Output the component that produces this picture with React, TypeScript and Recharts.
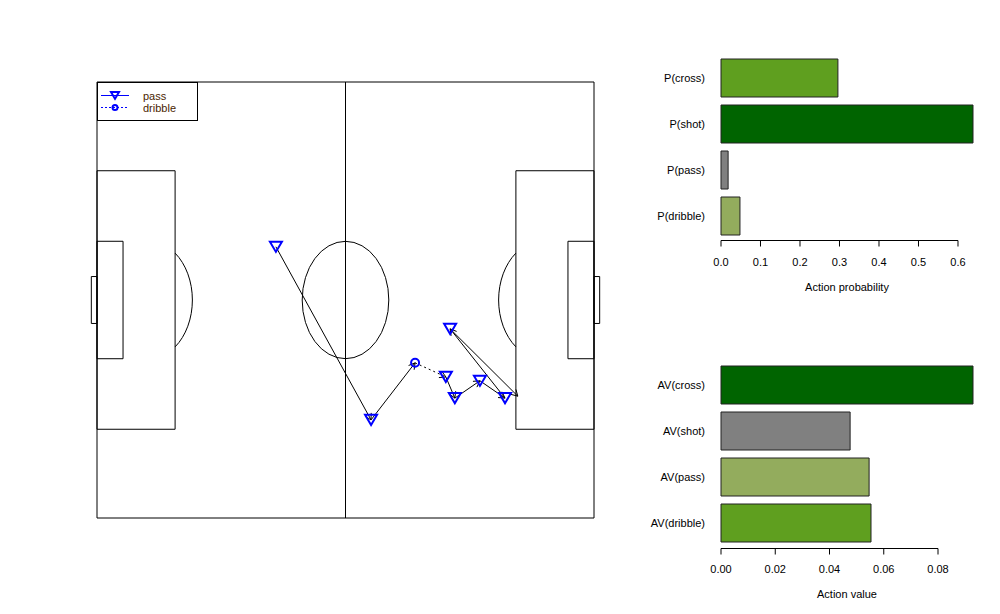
import {
  Bar,
  BarChart,
  Cell,
  ReferenceArea,
  ReferenceLine,
  Scatter,
  ScatterChart,
  XAxis,
  YAxis,
} from "recharts";

// action sequence on the pitch (metres, 105 x 68, y up)
const actionType = ["pass", "pass", "dribble", "pass", "pass", "pass", "pass", "pass"];
const startX = [37.8, 57.9, 67.2, 73.7, 75.6, 80.9, 86.2, 74.6];
const startY = [42.3, 15.3, 24.2, 22.0, 18.7, 21.4, 18.7, 29.5];
const endX = [57.9, 67.2, 73.7, 75.6, 80.9, 86.2, 74.6, 88.9];
const endY = [15.3, 24.2, 22.0, 18.7, 21.4, 18.7, 29.5, 19.0];

// bar panels
const probLabels = ["P(cross)", "P(shot)", "P(pass)", "P(dribble)"];
const probValues = [0.296, 0.638, 0.018, 0.048];
const probColors = ["#5F9F1F", "#006400", "#808080", "#93AC5D"];
const probTicks = [0, 0.1, 0.2, 0.3, 0.4, 0.5, 0.6];

const valueLabels = ["AV(cross)", "AV(shot)", "AV(pass)", "AV(dribble)"];
const valueValues = [0.0929, 0.0476, 0.0546, 0.0553];
const valueColors = ["#006400", "#808080", "#93AC5D", "#5F9F1F"];
const valueTicks = [0, 0.02, 0.04, 0.06, 0.08];

// pitch dimensions
const PITCH_L = 105;
const PITCH_W = 68;
const BOX_D = 16.5;
const BOX_W = 40.32;
const SIX_D = 5.5;
const SIX_W = 18.32;
const GOAL_W = 7.32;
const GOAL_D = 1.2;
const CIRCLE_R = 9.15;
const SPOT = 11;

const FONT = "'Liberation Sans', Arial, Helvetica, sans-serif";
const BLUE = "#0000FF";

const passPoints = startX
  .map((x, i) => ({ x, y: startY[i], type: actionType[i] }))
  .filter((d) => d.type === "pass");
const dribblePoints = startX
  .map((x, i) => ({ x, y: startY[i], type: actionType[i] }))
  .filter((d) => d.type === "dribble");

const Triangle = ({ cx, cy, size = 6 }: any) => (
  <polygon
    points={`${cx - size},${cy - size * 0.85} ${cx + size},${cy - size * 0.85} ${cx},${cy + size * 0.85}`}
    fill="none"
    stroke={BLUE}
    strokeWidth={2}
  />
);

const Ring = ({ cx, cy, r = 4 }: any) => (
  <circle cx={cx} cy={cy} r={r} fill="none" stroke={BLUE} strokeWidth={2} />
);

const Arrow = (p: any) => {
  const { x1, y1, x2, y2, dashed } = p;
  const ang = Math.atan2(y2 - y1, x2 - x1);
  const len = 7;
  const a = Math.PI / 6;
  const hx1 = x2 - len * Math.cos(ang - a);
  const hy1 = y2 - len * Math.sin(ang - a);
  const hx2 = x2 - len * Math.cos(ang + a);
  const hy2 = y2 - len * Math.sin(ang + a);
  return (
    <g>
      <line
        x1={x1}
        y1={y1}
        x2={x2}
        y2={y2}
        stroke="#000"
        strokeWidth={1}
        strokeDasharray={dashed ? "2 3" : undefined}
      />
      <polyline points={`${hx1},${hy1} ${x2},${y2} ${hx2},${hy2}`} fill="none" stroke="#000" strokeWidth={1} />
    </g>
  );
};

const EllipseShape = (p: any) => (
  <ellipse
    cx={p.x + p.width / 2}
    cy={p.y + p.height / 2}
    rx={p.width / 2}
    ry={p.height / 2}
    fill="none"
    stroke="#000"
  />
);

const arcShape = (side: 1 | -1) => (p: any) => {
  const cx = p.x + p.width / 2;
  const cy = p.y + p.height / 2;
  const rx = p.width / 2;
  const ry = p.height / 2;
  const c = (BOX_D - SPOT) / CIRCLE_R;
  const s = Math.sqrt(1 - c * c);
  const x0 = cx + side * rx * c;
  return (
    <path
      d={`M ${x0} ${cy - ry * s} A ${rx} ${ry} 0 0 ${side === 1 ? 1 : 0} ${x0} ${cy + ry * s}`}
      fill="none"
      stroke="#000"
    />
  );
};

const rect = (x1: number, x2: number, y1: number, y2: number, key: string) => (
  <ReferenceArea
    key={key}
    x1={x1}
    x2={x2}
    y1={y1}
    y2={y2}
    fill="none"
    stroke="#000"
    strokeWidth={1}
    fillOpacity={0}
    ifOverflow="visible"
  />
);

function Pitch() {
  const mid = PITCH_W / 2;
  return (
    <ScatterChart width={640} height={614} margin={{ top: 82, right: 46, bottom: 96, left: 97 }}>
      <XAxis type="number" dataKey="x" domain={[0, PITCH_L]} hide />
      <YAxis type="number" dataKey="y" domain={[0, PITCH_W]} hide />
      {rect(0, PITCH_L, 0, PITCH_W, "outer")}
      <ReferenceLine x={PITCH_L / 2} stroke="#000" strokeWidth={1} />
      {rect(0, BOX_D, mid - BOX_W / 2, mid + BOX_W / 2, "boxL")}
      {rect(PITCH_L - BOX_D, PITCH_L, mid - BOX_W / 2, mid + BOX_W / 2, "boxR")}
      {rect(0, SIX_D, mid - SIX_W / 2, mid + SIX_W / 2, "sixL")}
      {rect(PITCH_L - SIX_D, PITCH_L, mid - SIX_W / 2, mid + SIX_W / 2, "sixR")}
      {rect(-GOAL_D, 0, mid - GOAL_W / 2, mid + GOAL_W / 2, "goalL")}
      {rect(PITCH_L, PITCH_L + GOAL_D, mid - GOAL_W / 2, mid + GOAL_W / 2, "goalR")}
      <ReferenceArea
        x1={PITCH_L / 2 - CIRCLE_R}
        x2={PITCH_L / 2 + CIRCLE_R}
        y1={mid - CIRCLE_R}
        y2={mid + CIRCLE_R}
        shape={EllipseShape}
        ifOverflow="visible"
      />
      <ReferenceArea
        x1={SPOT - CIRCLE_R}
        x2={SPOT + CIRCLE_R}
        y1={mid - CIRCLE_R}
        y2={mid + CIRCLE_R}
        shape={arcShape(1)}
        ifOverflow="visible"
      />
      <ReferenceArea
        x1={PITCH_L - SPOT - CIRCLE_R}
        x2={PITCH_L - SPOT + CIRCLE_R}
        y1={mid - CIRCLE_R}
        y2={mid + CIRCLE_R}
        shape={arcShape(-1)}
        ifOverflow="visible"
      />
      {startX.map((sx, i) => (
        <ReferenceLine
          key={`a${i}`}
          segment={[
            { x: sx, y: startY[i] },
            { x: endX[i], y: endY[i] },
          ]}
          ifOverflow="visible"
          shape={(p: any) => <Arrow {...p} dashed={actionType[i] === "dribble"} />}
        />
      ))}
      <Scatter data={passPoints} isAnimationActive={false} shape={(p: any) => <Triangle cx={p.cx} cy={p.cy} />} />
      <Scatter data={dribblePoints} isAnimationActive={false} shape={(p: any) => <Ring cx={p.cx} cy={p.cy} />} />
    </ScatterChart>
  );
}

function PitchLegend() {
  return (
    <div style={{ position: "absolute", left: 97, top: 82, width: 101, height: 39 }}>
      <svg width={101} height={39} style={{ display: "block" }}>
        <rect x={0.5} y={0.5} width={100} height={38} fill="#fff" stroke="#000" />
        <line x1={4} x2={32} y1={13.5} y2={13.5} stroke={BLUE} />
        <Triangle cx={18} cy={13.5} size={4} />
        <line x1={4} x2={32} y1={25.5} y2={25.5} stroke={BLUE} strokeDasharray="2 2" />
        <Ring cx={18} cy={25.5} r={2.5} />
        <text x={46} y={17.5} fontSize={11} fill="#4a1e00" fontFamily={FONT}>
          pass
        </text>
        <text x={46} y={29.5} fontSize={11} fill="#4a1e00" fontFamily={FONT}>
          dribble
        </text>
      </svg>
    </div>
  );
}

const PLOT_LEFT = 81;

const makeTick = (digits: number, lastTick: number, lineOffset: number) => (p: any) => {
  const { x, y, payload } = p;
  const ay = y + lineOffset + 0.5;
  return (
    <g>
      {payload.value === lastTick && <line x1={PLOT_LEFT} x2={x} y1={ay} y2={ay} stroke="#000" />}
      <line x1={x} x2={x} y1={ay} y2={ay + 6} stroke="#000" />
      <text x={x} y={y + 27} textAnchor="middle" fontSize={11} fill="#000" fontFamily={FONT}>
        {payload.value.toFixed(digits)}
      </text>
    </g>
  );
};

function BarPanel({
  labels,
  values,
  colors,
  ticks,
  digits,
  title,
  lineOffset,
}: {
  labels: string[];
  values: number[];
  colors: string[];
  ticks: number[];
  digits: number;
  title: string;
  lineOffset: number;
}) {
  const data = labels.map((name, i) => ({ name, value: values[i] }));
  const max = Math.max(...values);
  return (
    <BarChart
      layout="vertical"
      width={360}
      height={296}
      data={data}
      margin={{ top: 55, right: 27, bottom: 5, left: 0 }}
    >
      <XAxis
        type="number"
        domain={[0, max]}
        ticks={ticks}
        axisLine={false}
        tickLine={false}
        tickSize={0}
        tickMargin={0}
        height={52}
        interval={0}
        tick={makeTick(digits, ticks[ticks.length - 1], lineOffset)}
        label={{ value: title, position: "insideBottom", offset: 0, fontSize: 11, fill: "#000", fontFamily: FONT }}
      />
      <YAxis
        type="category"
        dataKey="name"
        width={PLOT_LEFT}
        axisLine={false}
        tickLine={false}
        tickSize={0}
        tickMargin={16}
        tick={{ fontSize: 11, fill: "#000", fontFamily: FONT }}
      />
      <Bar dataKey="value" barSize={38} stroke="#222" strokeWidth={1} isAnimationActive={false}>
        {data.map((d, i) => (
          <Cell key={d.name} fill={colors[i]} />
        ))}
      </Bar>
    </BarChart>
  );
}

export default function App() {
  return (
    <div
      style={{
        position: "absolute",
        left: 0,
        top: 0,
        width: 1000,
        height: 614,
        background: "#fff",
        fontFamily: FONT,
      }}
    >
      <div style={{ position: "absolute", left: 0, top: 0 }}>
        <Pitch />
      </div>
      <PitchLegend />
      <div style={{ position: "absolute", left: 640, top: 0 }}>
        <BarPanel
          labels={probLabels}
          values={probValues}
          colors={probColors}
          ticks={probTicks}
          digits={1}
          title="Action probability"
          lineOffset={1}
        />
      </div>
      <div style={{ position: "absolute", left: 640, top: 307 }}>
        <BarPanel
          labels={valueLabels}
          values={valueValues}
          colors={valueColors}
          ticks={valueTicks}
          digits={2}
          title="Action value"
          lineOffset={2}
        />
      </div>
    </div>
  );
}
